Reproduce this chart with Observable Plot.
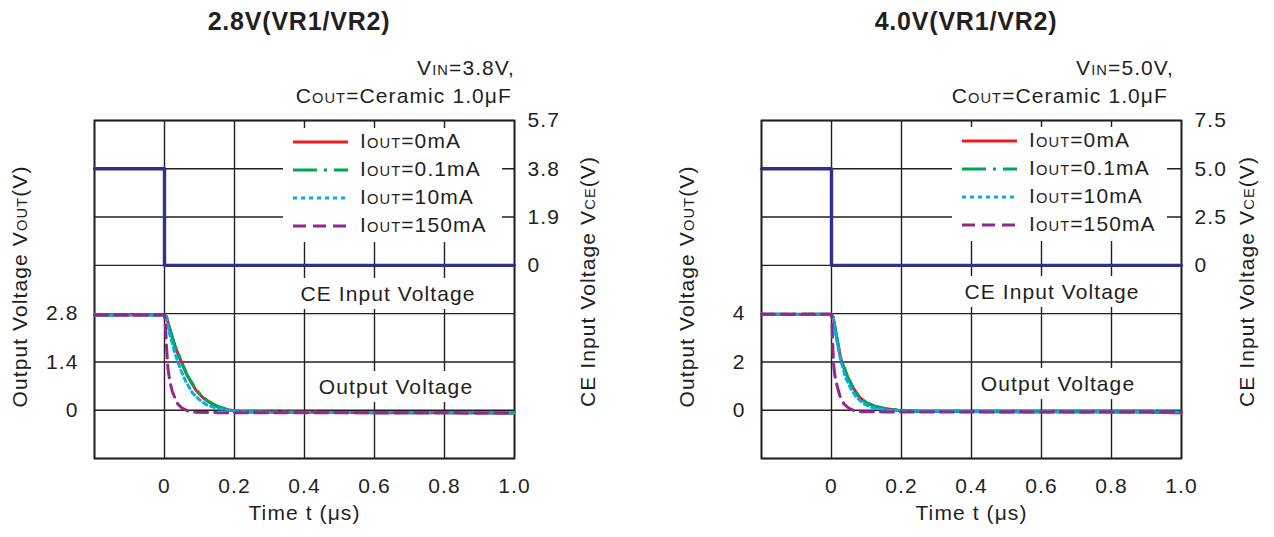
<!DOCTYPE html>
<html><head><meta charset="utf-8">
<script src="https://cdn.jsdelivr.net/npm/d3@7"></script>
<script src="https://cdn.jsdelivr.net/npm/@observablehq/plot@0.6"></script>
<style>
body{margin:0;background:#fff;}
#root{position:relative;width:1274px;height:537px;overflow:hidden;font-family:"Liberation Sans",Arial,Helvetica,sans-serif;color:#231f20;letter-spacing:1.1px;}
.abs{position:absolute;white-space:nowrap;}
.sc{font-size:0.7em;}
.legend{position:absolute;background:#fff;}
.row{height:28px;line-height:28px;display:flex;align-items:center;font-size:21px;}
.row svg{display:block;flex:none;}
.lab{position:absolute;background:#fff;font-size:21px;line-height:31px;padding:0 8px;transform:translateX(-50%);white-space:nowrap;}
</style></head><body><div id="root"></div>
<script>
// ---------------- data ----------------
const xTicks = [0, 0.2, 0.4, 0.6, 0.8, 1.0];
const xTickLabels = ["0", "0.2", "0.4", "0.6", "0.8", "1.0"];
const seriesLabels = ["0mA", "0.1mA", "10mA", "150mA"];

const ceTime = [-0.2, 0, 0, 1.0];
const ce28 = [3.8, 3.8, 0, 0];
const ce40 = [5.0, 5.0, 0, 0];

const yTicks28 = [0, 1.4, 2.8];
const yTickLabels28 = ["0", "1.4", "2.8"];
const ceTicks28 = [0, 1.9, 3.8, 5.7];
const ceTickLabels28 = ["0", "1.9", "3.8", "5.7"];

const yTicks40 = [0, 2, 4];
const yTickLabels40 = ["0", "2", "4"];
const ceTicks40 = [0, 2.5, 5.0, 7.5];
const ceTickLabels40 = ["0", "2.5", "5.0", "7.5"];

// output voltage curves [time µs, volts]
const out28_0mA = [[-0.2,2.76],[0,2.76],[0.006,2.7],[0.015,2.35],[0.03,1.85],[0.048,1.4],[0.065,1.0],[0.09,0.58],[0.11,0.36],[0.125,0.25],[0.15,0.11],[0.175,0.03],[0.2,-0.02],[0.25,-0.05],[0.4,-0.06],[0.6,-0.07],[0.8,-0.07],[1.0,-0.08]];
const out28_01mA = [[-0.2,2.76],[0,2.76],[0.006,2.71],[0.015,2.37],[0.03,1.87],[0.048,1.42],[0.065,1.02],[0.09,0.6],[0.11,0.37],[0.125,0.26],[0.15,0.12],[0.175,0.04],[0.2,-0.02],[0.25,-0.05],[0.4,-0.06],[0.6,-0.07],[0.8,-0.07],[1.0,-0.08]];
const out28_10mA = [[-0.2,2.76],[0,2.76],[0.005,2.65],[0.015,2.2],[0.03,1.65],[0.045,1.2],[0.06,0.85],[0.08,0.5],[0.1,0.3],[0.12,0.16],[0.15,0.05],[0.18,0.0],[0.22,-0.04],[0.3,-0.06],[0.6,-0.07],[1.0,-0.08]];
const out28_150mA = [[-0.2,2.76],[0,2.76],[0.003,2.4],[0.006,1.8],[0.01,1.2],[0.015,0.85],[0.022,0.55],[0.03,0.35],[0.038,0.18],[0.05,0.06],[0.067,-0.02],[0.09,-0.06],[0.15,-0.07],[0.5,-0.07],[1.0,-0.08]];

const out40_0mA = [[-0.2,3.97],[0,3.97],[0.005,3.85],[0.015,3.0],[0.027,2.1],[0.046,1.37],[0.06,0.97],[0.079,0.55],[0.1,0.3],[0.122,0.17],[0.15,0.07],[0.19,0.0],[0.25,-0.05],[0.5,-0.06],[0.9,-0.07],[1.0,-0.12]];
const out40_01mA = [[-0.2,3.97],[0,3.97],[0.005,3.86],[0.015,3.02],[0.027,2.12],[0.046,1.39],[0.06,0.99],[0.079,0.56],[0.1,0.31],[0.122,0.18],[0.15,0.08],[0.19,0.01],[0.25,-0.05],[0.5,-0.06],[0.9,-0.07],[1.0,-0.08]];
const out40_10mA = [[-0.2,3.97],[0,3.97],[0.005,3.8],[0.015,2.9],[0.025,2.15],[0.04,1.35],[0.055,0.9],[0.07,0.55],[0.09,0.28],[0.12,0.09],[0.16,0.0],[0.22,-0.04],[0.5,-0.06],[1.0,-0.07]];
const out40_150mA = [[-0.2,3.97],[0,3.97],[0.002,3.4],[0.004,2.5],[0.006,1.9],[0.01,1.4],[0.017,0.95],[0.025,0.55],[0.036,0.25],[0.05,0.08],[0.065,-0.02],[0.085,-0.06],[0.15,-0.07],[1.0,-0.07]];

// ---------------- style ----------------
const FONT = '"Liberation Sans", Arial, Helvetica, sans-serif';
const INK = "#231f20";
const seriesColors = ["#ed1c24", "#00a651", "#00aeef", "#92278f"];
const seriesDash = [null, "24,7,3,7", "4,4", "13,7"];

const panels = [
  {offset: 0, marginLeft: 94, marginRight: 123, title: "2.8V(VR1/VR2)", titleX: 299,
   vin: "3.8V", vinRight: 514, coutRight: 511,
   yDomain: [-1.4, 8.4], yStep: 1.4, yTicks: yTicks28, yTickLabels: yTickLabels28,
   ceDomain: [-7.6, 5.7], ceTicks: ceTicks28, ceTickLabels: ceTickLabels28, ce: ce28,
   outputs: [out28_0mA, out28_01mA, out28_10mA, out28_150mA], ceLabelDx: 74,
   legendLeft: 283, legendTop: 128, legendW: 219,
   ceLab: [388, 301], outLab: [396, 394]},
  {offset: 637, marginLeft: 124, marginRight: 93, title: "4.0V(VR1/VR2)", titleX: 966,
   vin: "5.0V", vinRight: 1173, coutRight: 1167,
   yDomain: [-2, 12], yStep: 2, yTicks: yTicks40, yTickLabels: yTickLabels40,
   ceDomain: [-10, 7.5], ceTicks: ceTicks40, ceTickLabels: ceTickLabels40, ce: ce40,
   outputs: [out40_0mA, out40_01mA, out40_10mA, out40_150mA], ceLabelDx: 66,
   legendLeft: 952, legendTop: 127, legendW: 215,
   ceLab: [1052, 299], outLab: [1058, 391]}
];

const root = document.getElementById("root");

function smallCaps(svg) {
  d3.select(svg).selectAll("text").each(function () {
    const s = this.textContent;
    if (!s.includes("{")) return;
    this.textContent = "";
    s.split(/(\{[^}]*\})/).forEach(part => {
      if (!part) return;
      const ts = document.createElementNS("http://www.w3.org/2000/svg", "tspan");
      if (part.startsWith("{")) { ts.textContent = part.slice(1, -1); ts.style.fontSize = "0.7em"; }
      else ts.textContent = part;
      this.appendChild(ts);
    });
  });
}

function addDiv(html, cls, style) {
  const d = document.createElement("div");
  d.className = cls;
  d.innerHTML = html;
  Object.assign(d.style, style);
  root.appendChild(d);
  return d;
}

for (const p of panels) {
  const [y0, y1] = p.yDomain, [c0, c1] = p.ceDomain;
  const toY = v => y0 + (v - c0) * (y1 - y0) / (c1 - c0);
  const yGrid = d3.range(0, 8).map(i => y0 + i * p.yStep);
  const ceTickPos = p.ceTicks.map(toY);
  const ceFmt = new Map(ceTickPos.map((y, i) => [y, p.ceTickLabels[i]]));
  const yFmt = new Map(p.yTicks.map((y, i) => [y, p.yTickLabels[i]]));
  const xFmt = new Map(xTicks.map((x, i) => [x, xTickLabels[i]]));
  const ceData = ceTime.map((t, i) => ({t, v: toY(p.ce[i])}));

  const marks = [
    Plot.gridX([-0.2, ...xTicks], {stroke: INK, strokeOpacity: 1, strokeWidth: 1.4}),
    Plot.gridY(yGrid, {stroke: INK, strokeOpacity: 1, strokeWidth: 1.4}),
    Plot.frame({stroke: INK, strokeWidth: 1.8}),
    Plot.axisX(xTicks, {tickSize: 0, tickPadding: 20, tickFormat: d => xFmt.get(d), label: null}),
    Plot.axisY(p.yTicks, {anchor: "left", tickSize: 0, tickPadding: 16, tickFormat: d => yFmt.get(d), label: null}),
    Plot.axisY(ceTickPos, {anchor: "right", tickSize: 0, tickPadding: 13, tickFormat: d => ceFmt.get(d), label: null}),
    Plot.line(ceData, {x: "t", y: "v", stroke: "#2e3192", strokeWidth: 3.4})
  ];
  p.outputs.forEach((arr, s) => {
    const o = {x: d => d[0], y: d => d[1], stroke: seriesColors[s], strokeWidth: 3};
    if (seriesDash[s]) o.strokeDasharray = seriesDash[s];
    marks.push(Plot.line(arr, o));
  });
  marks.push(
    Plot.text(["Time t (μs)"], {frameAnchor: "bottom", lineAnchor: "top", dy: 47}),
    Plot.text(["Output Voltage V{OUT}(V)"], {frameAnchor: "left", textAnchor: "middle", lineAnchor: "middle", rotate: -90, dx: -74, dy: -3}),
    Plot.text(["CE Input Voltage V{CE}(V)"], {frameAnchor: "right", textAnchor: "middle", lineAnchor: "middle", rotate: -90, dx: p.ceLabelDx, dy: -8})
  );

  const svg = Plot.plot({
    width: 637, height: 537,
    marginLeft: p.marginLeft, marginRight: p.marginRight, marginTop: 120, marginBottom: 79,
    x: {domain: [-0.2, 1.0]},
    y: {domain: p.yDomain},
    style: {fontFamily: FONT, fontSize: "21px", letterSpacing: "1.1px", color: INK, background: "transparent", overflow: "visible"},
    marks
  });
  smallCaps(svg);
  svg.style.position = "absolute";
  svg.style.left = p.offset + "px";
  svg.style.top = "0px";
  root.appendChild(svg);

  // title
  addDiv(p.title, "abs", {left: (p.titleX - 200) + "px", width: "400px", textAlign: "center", top: "6px",
    fontSize: "25px", fontWeight: "bold", lineHeight: "30px", letterSpacing: "0.8px"});
  // conditions
  addDiv(`V<span class="sc">IN</span>=${p.vin},`, "abs", {right: (1274 - p.vinRight - 1) + "px", top: "54px", fontSize: "21px", lineHeight: "28px"});
  addDiv(`C<span class="sc">OUT</span>=Ceramic 1.0μF`, "abs", {right: (1274 - p.coutRight - 1) + "px", top: "82px", fontSize: "21px", lineHeight: "28px"});

  // legend
  const lg = addDiv("", "legend", {left: p.legendLeft + "px", top: p.legendTop + "px", width: p.legendW + "px", height: "114px"});
  seriesLabels.forEach((lab, s) => {
    const row = document.createElement("div");
    row.className = "row";
    const dash = seriesDash[s] ? `stroke-dasharray="${seriesDash[s]}"` : "";
    row.innerHTML = `<svg width="77" height="10"><line x1="10" x2="65" y1="5" y2="5" stroke="${seriesColors[s]}" stroke-width="3" ${dash}/></svg><span>I<span class="sc">OUT</span>=${lab}</span>`;
    lg.appendChild(row);
  });

  // curve annotations
  addDiv("CE Input Voltage", "lab", {left: p.ceLab[0] + "px", top: (p.ceLab[1] - 22.8) + "px"});
  addDiv("Output Voltage", "lab", {left: p.outLab[0] + "px", top: (p.outLab[1] - 22.8) + "px"});
}
</script></body></html>
